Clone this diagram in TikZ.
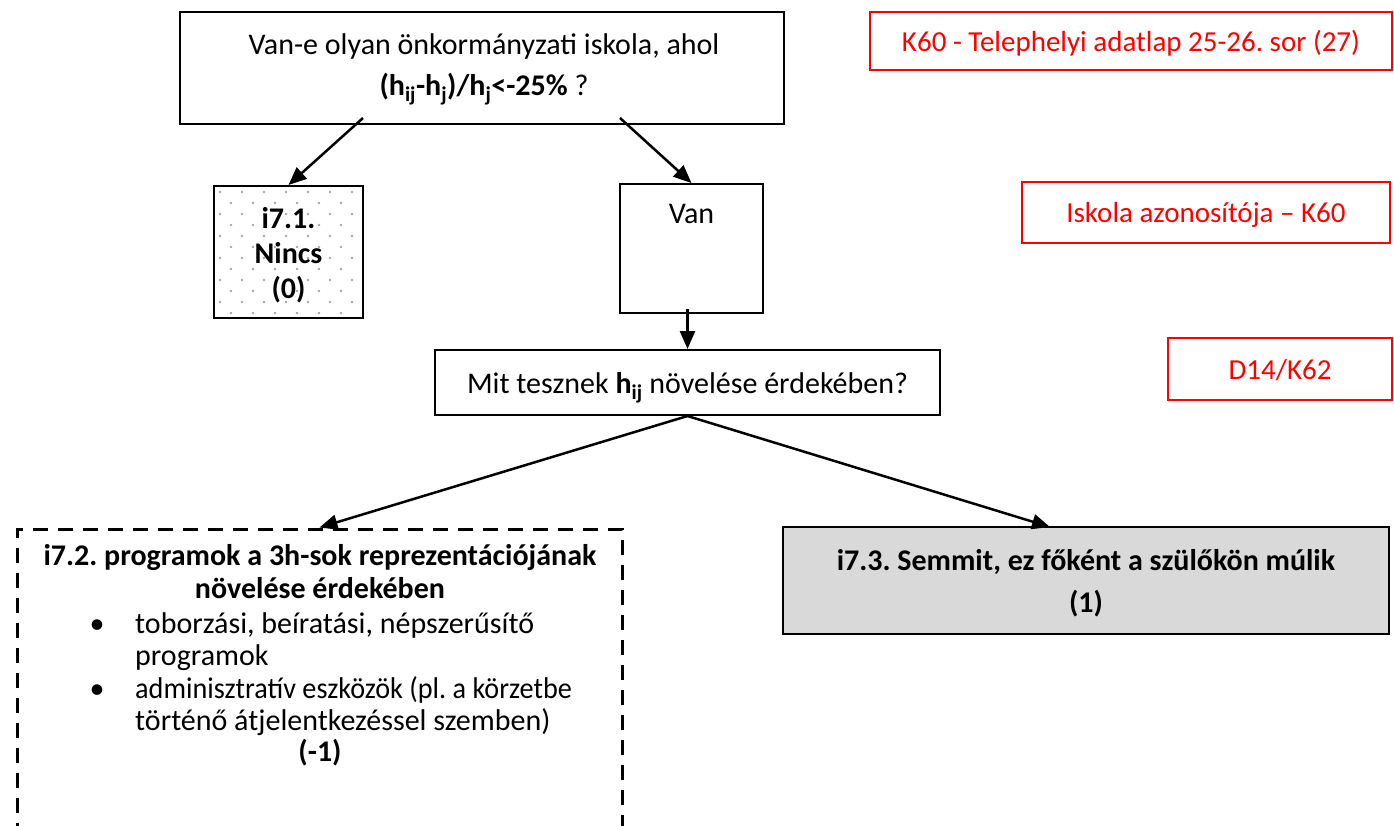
\documentclass[tikz,border=0pt]{standalone}
\usepackage{graphicx}
\usepackage{fontspec}
\setmainfont{Carlito}
\usetikzlibrary{arrows.meta}
\definecolor{boxgray}{HTML}{D9D9D9}
\definecolor{dotgray}{HTML}{A6A6A6}
\newcommand\fsz{\fontsize{30}{36}\selectfont\frenchspacing}
\newcommand\rsz{\fontsize{29}{35}\selectfont\frenchspacing}
\tikzset{
  txt/.style={font=\fsz, inner sep=0pt, anchor=base},
  btxt/.style={font=\fsz\bfseries, inner sep=0pt, anchor=base},
  rtxt/.style={font=\rsz, inner sep=0pt, anchor=base, text=red},
  blackbox/.style={draw, line width=2pt, inner sep=0pt},
  redbox/.style={draw=red, line width=2pt, inner sep=0pt},
  arr/.style={line width=2.5pt, -{Triangle[length=18pt,width=15pt]}},
}
\begin{document}
\frenchspacing
\begin{tikzpicture}[x=1pt,y=-1pt]
\useasboundingbox (0,0) rectangle (1394,825);
\clip (0,0) rectangle (1394,825);

% top question box
\node[blackbox, minimum width=604pt, minimum height=112pt] (top) at (482,68) {};
\node[txt] (t1) at (484,54) {Van-e olyan önkormányzati iskola, ahol};
\node[txt] (t2) at (484,95) {\textbf{(h\textsubscript{ij}-h\textsubscript{j})/h\textsubscript{j}<-25\%} ?};

% dotted box
\foreach \y in {192,214,...,302} {
  \foreach \x in {220,242,...,352} { \fill[dotgray] (\x,\y) circle (1.4pt); }
}
\foreach \y in {203,225,...,313} {
  \foreach \x in {231,253,...,341} { \fill[dotgray] (\x,\y) circle (1.4pt); }
}
\node[blackbox, minimum width=149pt, minimum height=132pt] (nincs) at (288.5,252) {};
\node[btxt] (n1) at (288.5,228) {i7.1.};
\node[btxt] (n2) at (288.5,263) {Nincs};
\node[btxt] (n3) at (288.5,298) {(0)};

% Van box
\node[blackbox, minimum width=143pt, minimum height=129pt] (van) at (691.5,248.5) {};
\node[txt] (vt) at (691.5,223) {Van};

% Mit box
\node[blackbox, minimum width=505pt, minimum height=65pt] (mit) at (687.5,382.5) {};
\node[txt] (mt) at (687.5,393) {Mit tesznek \textbf{h\textsubscript{ij}} növelése érdekében?};

% dashed box
\node[draw, line width=3pt, dash pattern=on 15pt off 10pt, inner sep=0pt,
      minimum width=605pt, minimum height=371pt] (dash) at (319.5,714.5) {};
\node[btxt] (d1) at (320,565) {i7.2. programok a 3h-sok reprezentációjának};
\node[btxt] (d2) at (320,598) {növelése érdekében};
\node[txt] (b1) at (97,633) {\textbullet};
\node[txt, anchor=base west] (d3) at (135,633) {toborzási, beíratási, népszerűsítő};
\node[txt, anchor=base west] (d4) at (135,665) {programok};
\node[txt] (b2) at (97,698) {\textbullet};
\node[txt, anchor=base west] (d5) at (135,698) {\scalebox{0.94}[1]{adminisztratív eszközök (pl. a körzetbe}};
\node[txt, anchor=base west] (d6) at (135,730) {történő átjelentkezéssel szemben)};
\node[btxt] (d7) at (320,761) {(-1)};

% gray box
\node[blackbox, fill=boxgray, minimum width=606pt, minimum height=107pt] (gray) at (1086,580.5) {};
\node[btxt] (g1t) at (1086,570) {i7.3. Semmit, ez főként a szülőkön múlik};
\node[btxt] (g2t) at (1086,612) {(1)};

% red boxes
\node[redbox, minimum width=522pt, minimum height=58pt] (r1) at (1131,41) {};
\node[rtxt] (r1t) at (1131,51) {K60 - Telephelyi adatlap 25-26. sor (27)};
\node[redbox, minimum width=368pt, minimum height=61pt] (r2) at (1206,212.5) {};
\node[rtxt] (r2t) at (1206,222) {Iskola azonosítója – K60};
\node[redbox, minimum width=224pt, minimum height=62pt] (r3) at (1280,369) {};
\node[rtxt] (r3t) at (1280,379) {D14/K62};

% connectors
\coordinate (a1) at (363,118);
\coordinate (a2) at (620,118);
\coordinate (a3) at (687.5,309);
\coordinate (ge) at (1050,527);
\draw[arr] (a1) -- (nincs.north);
\draw[arr] (a2) -- (van.north);
\draw[arr] (a3) -- (mit.north);
\draw[arr] (mit.south) -- (dash.north);
\draw[arr] (mit.south) -- (ge);
\end{tikzpicture}
\end{document}
